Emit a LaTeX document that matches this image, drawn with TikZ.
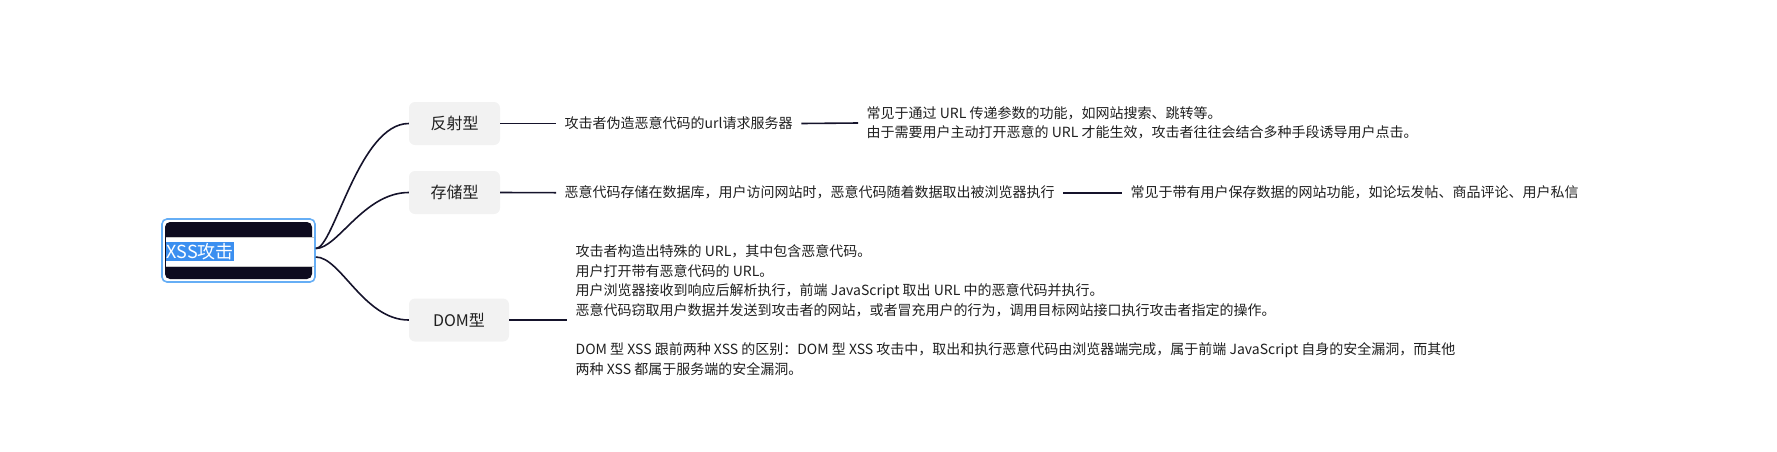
\documentclass[tikz,border=0pt]{standalone}
\usepackage{fontspec}
\setmainfont{Noto Sans CJK SC}
\usepackage{xcolor}
\usepackage{tikz}

\definecolor{linkcol}{HTML}{15132B}
\definecolor{boxgray}{HTML}{F2F2F2}
\definecolor{inkcol}{HTML}{1F1F1F}
\definecolor{selblue}{HTML}{66AEF5}
\definecolor{rootdark}{HTML}{0D0B1F}
\definecolor{hiblue}{HTML}{3B8FF0}
\newcommand{\leaffont}{\fontsize{14pt}{19.6pt}\selectfont}

\begin{document}
\begin{tikzpicture}[x=1pt,y=-1pt,
  link/.style={draw=linkcol,line width=1.6pt},
  branch/.style={fill=boxgray,rounded corners=6pt,minimum width=91pt,minimum height=43pt,inner sep=0pt,text=inkcol,font=\fontsize{16pt}{18pt}\selectfont},
  leaf/.style={anchor=west,inner xsep=8.5pt,inner ysep=0pt,text=inkcol,align=left,font=\leaffont}]
  \useasboundingbox (0,0) rectangle (1777,451);
  % root, shown while being edited
  \node[draw=selblue,fill=white,line width=1.6pt,rounded corners=5pt,minimum width=153pt,minimum height=63pt] (root) at (238.5,250.5) {};
  \node[fill=rootdark,rounded corners=5pt,minimum width=147pt,minimum height=57pt] (rootfill) at (root) {};
  \node[fill=white,minimum width=148pt,minimum height=28pt,inner sep=0pt] (band) at (240,252) {};
  \draw[gray!45,line width=1pt] (band.north west) -- (band.north east) (band.south west) -- (band.south east);
  \node[anchor=west,fill=hiblue,text=white,inner xsep=0.5pt,inner ysep=1.5pt,font=\fontsize{18pt}{20pt}\selectfont] (roottext) at (166,251.5) {XSS攻击};
  % branches
  \node[branch] (fs) at (454.5,123.5) {反射型};
  \node[branch] (cc) at (454.5,192.5) {存储型};
  \node[branch,minimum width=100pt] (dom) at (459,320) {DOM型};
  \draw[link] ([yshift=2pt]root.east) .. controls +(18,0) and +(-50,0) .. (fs.west);
  \draw[link] ([yshift=2pt]root.east) .. controls +(22,0) and +(-45,0) .. (cc.west);
  \draw[link] ([yshift=-6.5pt]root.east) .. controls +(25,0) and +(-45,0) .. (dom.west);
  % 反射型
  \node[leaf] (fs1) at (556,123.5) {攻击者伪造恶意代码的url请求服务器};
  \node[leaf] (fs2) at (858,123) {常见于通过 URL 传递参数的功能，如网站搜索、跳转等。\\由于需要用户主动打开恶意的 URL 才能生效，攻击者往往会结合多种手段诱导用户点击。};
  \draw[link] (fs.east) -- (fs1.west);
  \draw[link] (fs1.east) -- (fs2.west);
  % 存储型
  \node[leaf] (cc1) at (556,192.7) {恶意代码存储在数据库，用户访问网站时，恶意代码随着数据取出被浏览器执行};
  \node[leaf] (cc2) at (1122,192.7) {常见于带有用户保存数据的网站功能，如论坛发帖、商品评论、用户私信};
  \draw[link] (cc.east) -- (cc1.west);
  \draw[link] (cc1.east) -- (cc2.west);
  % DOM型
  \node[leaf,anchor=north west] (dom1) at (567,244.5) {攻击者构造出特殊的 URL，其中包含恶意代码。\\用户打开带有恶意代码的 URL。\\用户浏览器接收到响应后解析执行，前端 JavaScript 取出 URL 中的恶意代码并执行。\\恶意代码窃取用户数据并发送到攻击者的网站，或者冒充用户的行为，调用目标网站接口执行攻击者指定的操作。\\[19.6pt]DOM 型 XSS 跟前两种 XSS 的区别：DOM 型 XSS 攻击中，取出和执行恶意代码由浏览器端完成，属于前端 JavaScript 自身的安全漏洞，而其他\\两种 XSS 都属于服务端的安全漏洞。};
  \draw[link] (dom.east) -- (dom.east -| dom1.west);
\end{tikzpicture}
\end{document}
